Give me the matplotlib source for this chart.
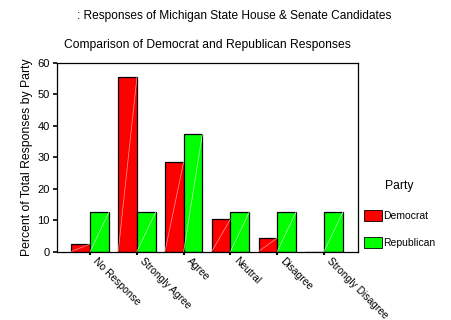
import matplotlib
matplotlib.use("Agg")
import matplotlib.pyplot as plt
import numpy as np
from matplotlib.patches import Rectangle

categories = ["No Response", "Strongly Agree", "Agree", "Neutral", "Disagree", "Strongly Disagree"]
democrat = [2.4, 55.4, 28.6, 10.3, 4.3, 0.0]
republican = [12.5, 12.5, 37.5, 12.5, 12.5, 12.5]
yticks = [0, 10, 20, 30, 40, 50, 60]

plt.rcParams['font.family'] = ['Liberation Sans', 'DejaVu Sans']

W, H = 451, 320
fig = plt.figure(figsize=(W / 100, H / 100), dpi=100)
ax = fig.add_axes([56.7 / W, 1 - 251.5 / H, (357.7 - 56.7) / W, (251.5 - 63) / H])

x = np.arange(len(categories))
bw = 0.4
b1 = ax.bar(x - bw / 2, democrat, bw, color="#ff0000", edgecolor="black", linewidth=0.9)
b2 = ax.bar(x + bw / 2, republican, bw, color="#00ff00", edgecolor="black", linewidth=0.9)
for bars, lc in ((b1, "#ff9a9a"), (b2, "#b8ffb8")):
    for p in bars:
        if p.get_height() > 0:
            ax.plot([p.get_x(), p.get_x() + p.get_width()], [0, p.get_height()],
                    color=lc, lw=0.5, zorder=p.get_zorder() + 0.1)

ax.set_xlim(-0.715, 5.72)
ax.set_ylim(0, 60)
ax.set_yticks(yticks)
ax.set_yticklabels([str(t) for t in yticks], fontsize=8)
ax.set_xticks(x)
ax.set_xticklabels([])
for xi, cat in zip(x, categories):
    ax.annotate(cat, xy=(xi, 0), xycoords=("data", "axes fraction"),
                xytext=(8, -4), textcoords="offset pixels",
                rotation=-45, ha="left", va="top", rotation_mode="anchor",
                fontsize=7.4, annotation_clip=False)
ax.tick_params(axis="y", direction="out", length=3, width=1.2, pad=2)
ax.tick_params(axis="x", direction="out", length=2, width=1.5, pad=2)
for s in ax.spines.values():
    s.set_linewidth(0.9)
ax.set_ylabel("Percent of Total Responses by Party", fontsize=8.8, labelpad=3)

fig.text(234 / W, 1 - 16 / H, ": Responses of Michigan State House & Senate Candidates",
         ha="center", va="center", fontsize=8.6)
fig.text(207 / W, 1 - 45 / H, "Comparison of Democrat and Republican Responses",
         ha="center", va="center", fontsize=8.7)

fig.text(399 / W, 1 - 186 / H, "Party", ha="center", va="center", fontsize=8.7)
handles = [Rectangle((0, 0), 1, 1, facecolor="#ff0000", edgecolor="black", linewidth=0.6),
           Rectangle((0, 0), 1, 1, facecolor="#00ff00", edgecolor="black", linewidth=0.6)]
leg = fig.legend(handles, ["Democrat", "Republican"],
                 loc="upper left", bbox_to_anchor=(360 / W, 1 - 206 / H),
                 frameon=False, fontsize=7.5,
                 handlelength=1.7, handleheight=1.2, handletextpad=0.15,
                 labelspacing=1.55, borderaxespad=0.0)

fig.savefig("out.png", dpi=100)
